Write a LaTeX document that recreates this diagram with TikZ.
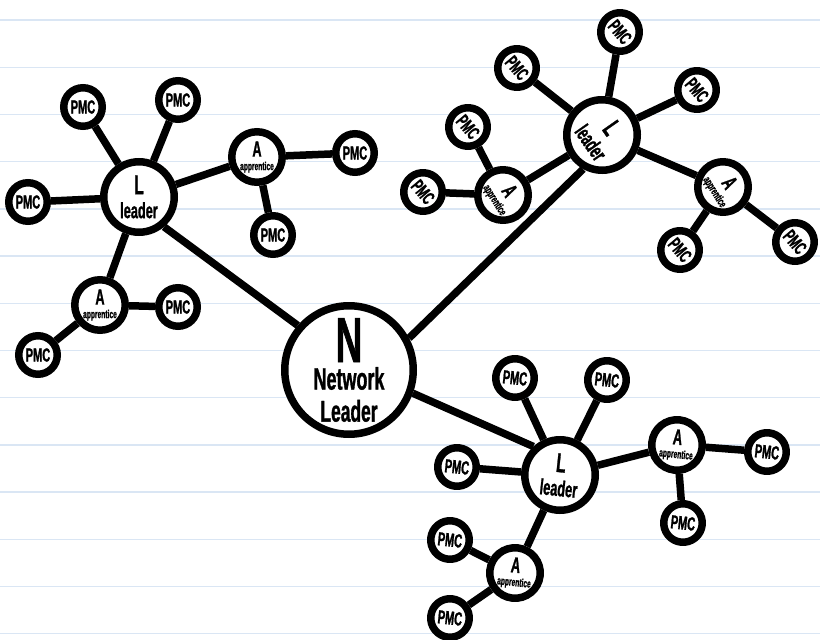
\documentclass[tikz,border=0pt]{standalone}
\usepackage{fontspec}
\newfontfamily\gothic{Liberation Sans}[FakeStretch=0.58, FakeBold=1]
\definecolor{paperblue}{RGB}{218,230,244}
\newcommand{\Ltext}{{\fontsize{27}{27}\selectfont L}\\[7pt]{\fontsize{22}{22}\selectfont leader}}
\newcommand{\Atext}{{\fontsize{22}{22}\selectfont A}\\[1.5pt]{\fontsize{11.5}{12}\selectfont apprentice}}
\begin{document}
\begin{tikzpicture}[x=1pt, y=-1pt,
    bubble/.style={circle, draw, line width=7.5pt, fill=white, inner sep=0pt, align=center, font=\gothic\bfseries},
    pmc/.style={bubble, minimum size=38.5pt, font=\gothic\bfseries\fontsize{19}{19}\selectfont},
    appr/.style={bubble, minimum size=50.5pt},
    lead/.style={bubble, minimum size=70.5pt},
    link/.style={line width=7.5pt}]
  \path[use as bounding box, fill=white] (0,0) rectangle (820,640);
  \foreach \k in {0,...,13}
    \draw[paperblue, line width=1.4pt] (0,{20+47.2*\k}) -- (820,{20+47.2*\k});

  \node[bubble, minimum size=128.5pt] (0) at (349,370) {{\fontsize{64}{64}\selectfont N}\\[4pt]{\fontsize{31}{31}\selectfont Network}\\[9pt]{\fontsize{30}{30}\selectfont Leader}};

  \node[lead] (1) at (139,197) {\Ltext};
  \node[pmc] (2) at (83,107) {PMC};
  \node[pmc] (3) at (178,100) {PMC};
  \node[pmc] (4) at (28,202) {PMC};
  \node[appr] (5) at (257,157) {\Atext};
  \node[pmc] (6) at (355,153) {PMC};
  \node[pmc] (7) at (273,235) {PMC};
  \node[appr] (8) at (100,305) {\Atext};
  \node[pmc] (9) at (178,307) {PMC};
  \node[pmc] (10) at (38,355) {PMC};

  \node[lead, rotate=-55] (11) at (602,135) {\Ltext};
  \node[pmc, rotate=-50] (12) at (620,32) {PMC};
  \node[pmc, rotate=-50] (13) at (517,68) {PMC};
  \node[pmc, rotate=-50] (14) at (697,90) {PMC};
  \node[appr, rotate=-58] (15) at (503,195) {\Atext};
  \node[pmc, rotate=-50] (16) at (468,127) {PMC};
  \node[pmc, rotate=-50] (17) at (423,192) {PMC};
  \node[appr, rotate=-58] (18) at (723,187) {\Atext};
  \node[pmc, rotate=-50] (19) at (680,250) {PMC};
  \node[pmc, rotate=-50] (20) at (795,242) {PMC};

  \node[lead, rotate=-6] (21) at (560,475) {\Ltext};
  \node[pmc, rotate=-6] (22) at (515,378) {PMC};
  \node[pmc, rotate=-6] (23) at (607,380) {PMC};
  \node[pmc, rotate=-6] (24) at (457,467) {PMC};
  \node[appr, rotate=-6] (25) at (677,445) {\Atext};
  \node[pmc, rotate=-6] (26) at (767,452) {PMC};
  \node[pmc, rotate=-6] (27) at (683,523) {PMC};
  \node[appr, rotate=-6] (28) at (515,573) {\Atext};
  \node[pmc, rotate=-6] (29) at (450,540) {PMC};
  \node[pmc, rotate=-6] (30) at (450,618) {PMC};

  \draw[link] (0.139) edge (1.310);
  \draw[link] (0.28) edge (11.296);
  \draw[link] (0.340) edge (21.139);
  \draw[link] (1) edge (2);
  \draw[link] (1) edge (3);
  \draw[link] (1) edge (4);
  \draw[link] (1) edge (5);
  \draw[link] (1) edge (8);
  \draw[link] (5) edge (6);
  \draw[link] (5) edge (7);
  \draw[link] (8) edge (9);
  \draw[link] (8) edge (10);
  \draw[link] (11) edge (12);
  \draw[link] (11) edge (13);
  \draw[link] (11) edge (14);
  \draw[link] (11) edge (15);
  \draw[link] (11) edge (18);
  \draw[link] (15) edge (16);
  \draw[link] (15) edge (17);
  \draw[link] (18) edge (19);
  \draw[link] (18) edge (20);
  \draw[link] (21) edge (22);
  \draw[link] (21) edge (23);
  \draw[link] (21) edge (24);
  \draw[link] (21) edge (25);
  \draw[link] (21) edge (28);
  \draw[link] (25) edge (26);
  \draw[link] (25) edge (27);
  \draw[link] (28) edge (29);
  \draw[link] (28) edge (30);
\end{tikzpicture}
\end{document}
